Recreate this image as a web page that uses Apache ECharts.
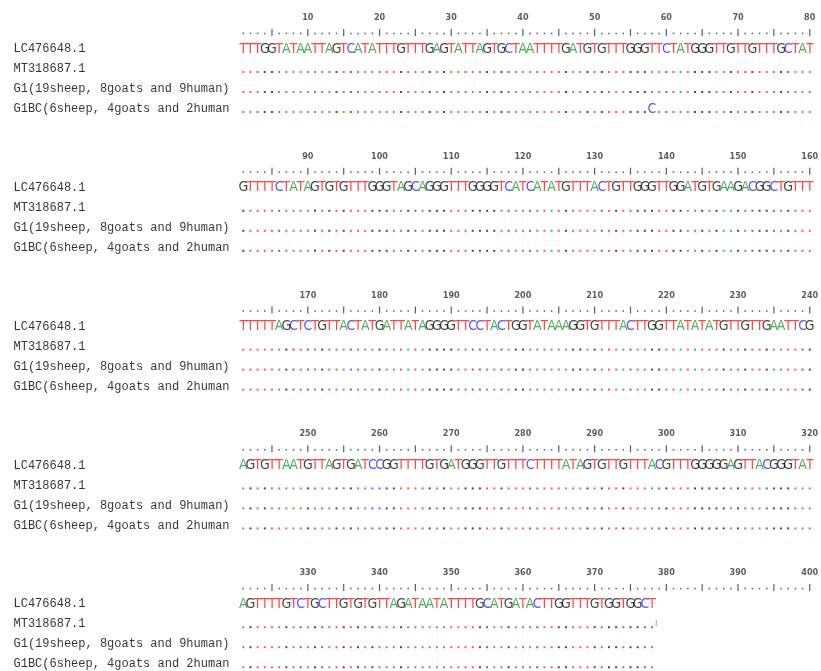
<!DOCTYPE html>
<html>
<head>
<meta charset="utf-8">
<script src="https://cdn.jsdelivr.net/npm/echarts@6/dist/echarts.min.js"></script>
<style>
html, body { margin: 0; padding: 0; background: #fff; }
#main { width: 821px; height: 671px; }
</style>
</head>
<body>
<div id="main"></div>
<script>
// names of the aligned sequences, one per row
var seqNames = ['LC476648.1', 'MT318687.1', 'G1(19sheep, 8goats and 9human)', 'G1BC(6sheep, 4goats and 2human'];

// reference LC476648.1, 80 bases per block
var refBlocks = [
  'TTTGGTATAATTAGTCATATTTGTTTGAGTATTAGTGCTAATTTTGATGTGTTTGGGTTCTATGGGTTGTTGTTTGCTAT',
  'GTTTTCTATAGTGTGTTTGGGTAGCAGGGTTTGGGGTCATCATATGTTTACTGTTGGGTTGGATGTGAAGACGGCTGTTT',
  'TTTTTAGCTCTGTTACTATGATTATAGGGGTTCCTACTGGTATAAAGGTGTTTACTTGGTTATATATGTTGTTGAATTCG',
  'AGTGTTAATGTTAGTGATCCGGTTTTGTGATGGGTTGTTTCTTTTATAGTGTTGTTTACGTTTGGGGGAGTTACGGGTAT',
  'AGTTTTGTCTGCTTGTGTGTTAGATAATATTTTGCATGATACTTGGTTTGTGGTGGCT'
];

// ruler numbers
var tickLabels = [
  '10', '20', '30', '40', '50', '60', '70', '80',
  '90', '100', '110', '120', '130', '140', '150', '160',
  '170', '180', '190', '200', '210', '220', '230', '240',
  '250', '260', '270', '280', '290', '300', '310', '320',
  '330', '340', '350', '360', '370', '380', '390', '400'
];

// bases that differ from the reference
var variantRows = [3];
var variantPos = [58];
var variantBase = ['C'];

// insertion marks (row, after position)
var insertRows = [1];
var insertPos = [378];

var baseColor = { T: '#ff1a1a', A: '#25952f', G: '#141414', C: '#2a2aff' };
var dotColor = { T: '#ff3030', A: '#2aa040', G: '#202020', C: '#3a3aff' };

// layout
var COLS = 80, PX = 7.17, FIRST_X = 243.3;
var W = 821, H = 671, LINE = 20, PITCH = 6.94, TOP = 0.8;
var OFF = { num: 0.08, ruler: 0.82, row: 1.65, dot: 0.15 };

function blockY(b) { return TOP + b * PITCH; }
function rowY(b, r) { return blockY(b) + OFF.row + r; }

var nameData = [], numData = [], rulerDot = [], rulerBar = [], letterData = [], dotData = [], varData = [], insData = [];

for (var b = 0; b < refBlocks.length; b++) {
  for (var r = 0; r < seqNames.length; r++) {
    nameData.push({ name: seqNames[r], value: [1 - (FIRST_X - 13) / PX, rowY(b, r)] });
  }
  for (var i = 0; i < 8; i++) {
    numData.push({ name: tickLabels[b * 8 + i], value: [(i + 1) * 10, blockY(b) + OFF.num] });
  }
  for (var c = 1; c <= COLS; c++) {
    if (c % 5 === 0) rulerBar.push([c, blockY(b) + OFF.ruler]);
    else rulerDot.push([c, blockY(b) + OFF.ruler + 0.05]);
  }
  var s = refBlocks[b];
  for (var k = 0; k < s.length; k++) {
    var ch = s.charAt(k);
    letterData.push({ name: ch, value: [k + 1, rowY(b, 0)], label: { color: baseColor[ch] } });
    for (var rr = 1; rr < seqNames.length; rr++) {
      var pos = b * COLS + k + 1;
      var isVar = false;
      for (var v = 0; v < variantPos.length; v++) {
        if (variantPos[v] === pos && variantRows[v] === rr) {
          isVar = true;
          varData.push({ name: variantBase[v], value: [k + 1, rowY(b, rr)], label: { color: baseColor[variantBase[v]] } });
        }
      }
      if (!isVar) dotData.push({ value: [k + 1, rowY(b, rr) + OFF.dot], itemStyle: { color: dotColor[ch] } });
    }
  }
}
for (var q = 0; q < insertPos.length; q++) {
  var bb = Math.floor((insertPos[q] - 1) / COLS);
  var cc = insertPos[q] - bb * COLS;
  insData.push([cc + 0.6, rowY(bb, insertRows[q]) - 0.05]);
}

var textSeries = function (data, label) {
  return {
    type: 'scatter', data: data, symbolSize: 1, silent: true,
    itemStyle: { color: 'rgba(0,0,0,0)' },
    label: Object.assign({ show: true, formatter: '{b}' }, label)
  };
};

var seqFont = 'DejaVu Sans Condensed, Liberation Sans Narrow, sans-serif';

var chart = echarts.init(document.getElementById('main'));
chart.setOption({
  animation: false,
  backgroundColor: '#fff',
  grid: { left: 0, right: 0, top: 0, bottom: 0 },
  xAxis: { type: 'value', min: 1 - FIRST_X / PX, max: 1 + (W - FIRST_X) / PX, show: false },
  yAxis: { type: 'value', min: 0, max: H / LINE, inverse: true, show: false },
  series: [
    textSeries(nameData, { position: 'right', distance: 0, color: '#000', fontSize: 12, fontFamily: 'Liberation Mono, DejaVu Sans Mono, monospace' }),
    textSeries(numData, { position: 'inside', color: '#333', fontSize: 9, fontWeight: 'bold', fontFamily: 'DejaVu Sans Condensed, DejaVu Sans, sans-serif' }),
    { type: 'scatter', data: rulerDot, symbol: 'rect', symbolSize: [1.5, 1.5], itemStyle: { color: '#333' }, silent: true },
    { type: 'scatter', data: rulerBar, symbol: 'rect', symbolSize: [1.2, 7], itemStyle: { color: '#3a2d55' }, silent: true },
    textSeries(letterData, { position: 'inside', fontSize: 14, fontFamily: seqFont }),
    { type: 'scatter', data: dotData, symbol: 'rect', symbolSize: [2, 2], silent: true },
    textSeries(varData, { position: 'inside', fontSize: 14, fontFamily: seqFont }),
    { type: 'scatter', data: insData, symbol: 'rect', symbolSize: [1.2, 6], itemStyle: { color: '#c080d8' }, silent: true }
  ]
});
</script>
</body>
</html>
